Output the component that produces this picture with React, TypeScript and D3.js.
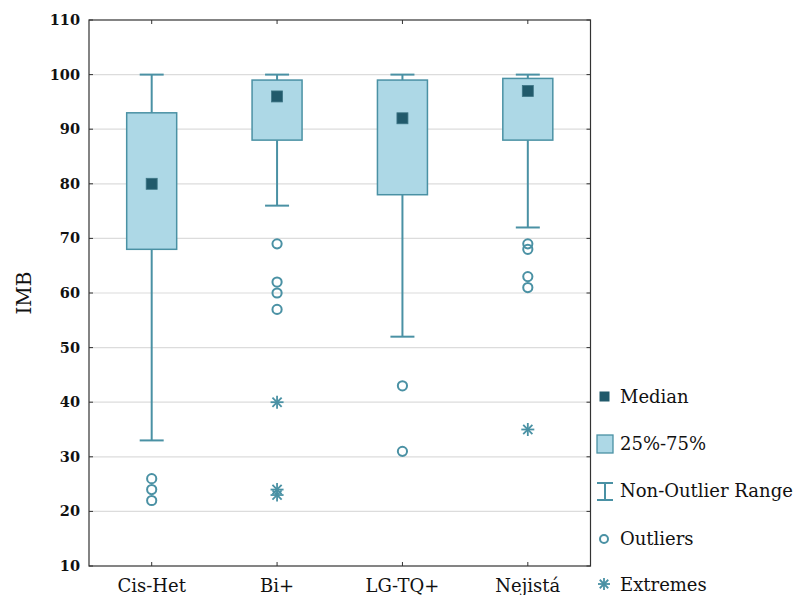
import React from "react";
import * as d3 from "d3";

const categories = ["Cis-Het", "Bi+", "LG-TQ+", "Nejistá"];
const whiskerLow = [33, 76, 52, 72];
const q1 = [68, 88, 78, 88];
const medians = [80, 96, 92, 97];
const q3 = [93, 99, 99, 99.3];
const whiskerHigh = [100, 100, 100, 100];
const outliers = [[26, 24, 22], [69, 62, 60, 57], [43, 31], [69, 68, 63, 61]];
const extremes = [[], [40, 24, 23], [], [35]];
const yTicks = [10, 20, 30, 40, 50, 60, 70, 80, 90, 100, 110];
const legendLabels = ["Median", "25%-75%", "Non-Outlier Range", "Outliers", "Extremes"];

const W = 797, H = 595;
const M = { left: 89, top: 20, right: 590.5, bottom: 566 };
const STROKE = "#4a91a4";
const FILL = "#add8e6";
const MED = "#215a6b";
const FONT = "'DejaVu Serif', serif";

function Asterisk({ x, y, r }: { x: number; y: number; r: number }) {
  const d = r * Math.SQRT1_2;
  return (
    <g stroke={STROKE} strokeWidth={1.8}>
      <line x1={x} y1={y - r} x2={x} y2={y + r} />
      <line x1={x - r} y1={y} x2={x + r} y2={y} />
      <line x1={x - d} y1={y - d} x2={x + d} y2={y + d} />
      <line x1={x - d} y1={y + d} x2={x + d} y2={y - d} />
    </g>
  );
}

export default function App() {
  const x = d3.scaleBand().domain(categories).range([M.left, M.right]).padding(0);
  const y = d3.scaleLinear().domain([10, 110]).range([M.bottom, M.top]);
  const bw = 50;
  const cap = 24;
  const cx = (c: string) => (x(c) as number) + x.bandwidth() / 2;
  const legendY = [397, 444, 491, 539, 585];
  const lx = 605;

  return (
    <svg width={W} height={H} style={{ position: "absolute", left: 0, top: 0, background: "#fff" }}>
      {/* grid */}
      {yTicks.slice(1, -1).map((t) => (
        <line key={"g" + t} x1={M.left} x2={M.right} y1={y(t)} y2={y(t)} stroke="#dcdcdc" strokeWidth={1.2} />
      ))}
      {/* frame */}
      <rect x={M.left} y={M.top} width={M.right - M.left} height={M.bottom - M.top} fill="none" stroke="#333" strokeWidth={1.2} />
      {/* ticks */}
      {yTicks.map((t) => (
        <g key={"t" + t}>
          <line x1={M.left} x2={M.left + 4} y1={y(t)} y2={y(t)} stroke="#333" />
          <line x1={M.right - 4} x2={M.right} y1={y(t)} y2={y(t)} stroke="#333" />
          <text x={80} y={y(t)} dy="0.35em" textAnchor="end" fontFamily={FONT} fontSize={14.5} fontWeight="bold" fill="#111">
            {t}
          </text>
        </g>
      ))}
      {categories.map((c) => (
        <g key={"xt" + c}>
          <line x1={cx(c)} x2={cx(c)} y1={M.top} y2={M.top + 4} stroke="#333" />
          <line x1={cx(c)} x2={cx(c)} y1={M.bottom - 4} y2={M.bottom} stroke="#333" />
          <text x={cx(c)} y={592} textAnchor="middle" fontFamily={FONT} fontSize={18} fill="#111">
            {c}
          </text>
        </g>
      ))}
      <text transform={`translate(31,${(M.top + M.bottom) / 2}) rotate(-90)`} textAnchor="middle" fontFamily={FONT} fontSize={20} fill="#111">
        IMB
      </text>
      {/* boxes */}
      {categories.map((c, i) => {
        const X = cx(c);
        return (
          <g key={"b" + c}>
            <line x1={X} x2={X} y1={y(whiskerHigh[i])} y2={y(q3[i])} stroke={STROKE} strokeWidth={2} />
            <line x1={X} x2={X} y1={y(q1[i])} y2={y(whiskerLow[i])} stroke={STROKE} strokeWidth={2} />
            <line x1={X - cap / 2} x2={X + cap / 2} y1={y(whiskerHigh[i])} y2={y(whiskerHigh[i])} stroke={STROKE} strokeWidth={2} />
            <line x1={X - cap / 2} x2={X + cap / 2} y1={y(whiskerLow[i])} y2={y(whiskerLow[i])} stroke={STROKE} strokeWidth={2} />
            <rect x={X - bw / 2} y={y(q3[i])} width={bw} height={y(q1[i]) - y(q3[i])} fill={FILL} stroke={STROKE} strokeWidth={1.5} />
            <rect x={X - 5.5} y={y(medians[i]) - 5.5} width={11} height={11} fill={MED} stroke="#3d7585" strokeWidth={0.8} />
            {outliers[i].map((v, j) => (
              <circle key={"o" + j} cx={X} cy={y(v)} r={4.6} fill="none" stroke={STROKE} strokeWidth={2} />
            ))}
            {extremes[i].map((v, j) => (
              <Asterisk key={"e" + j} x={X} y={y(v)} r={6.5} />
            ))}
          </g>
        );
      })}
      {/* legend */}
      <g>
        <rect x={lx - 5.5} y={legendY[0] - 5.5} width={10} height={10} fill={MED} />
        <rect x={lx - 8} y={legendY[1] - 9} width={16} height={18} fill={FILL} stroke={STROKE} strokeWidth={1.3} />
        <g stroke={STROKE} strokeWidth={2}>
          <line x1={lx - 8} x2={lx + 8} y1={legendY[2] - 8} y2={legendY[2] - 8} />
          <line x1={lx - 8} x2={lx + 8} y1={legendY[2] + 9} y2={legendY[2] + 9} />
          <line x1={lx} x2={lx} y1={legendY[2] - 8} y2={legendY[2] + 9} />
        </g>
        <circle cx={lx - 1} cy={legendY[3]} r={4} fill="none" stroke={STROKE} strokeWidth={2} />
        <Asterisk x={lx - 1} y={legendY[4] - 1} r={6} />
        {legendLabels.map((l, i) => (
          <text key={l} x={620} y={legendY[i]} dy="0.35em" fontFamily={FONT} fontSize={18} fill="#111">
            {l}
          </text>
        ))}
      </g>
    </svg>
  );
}
